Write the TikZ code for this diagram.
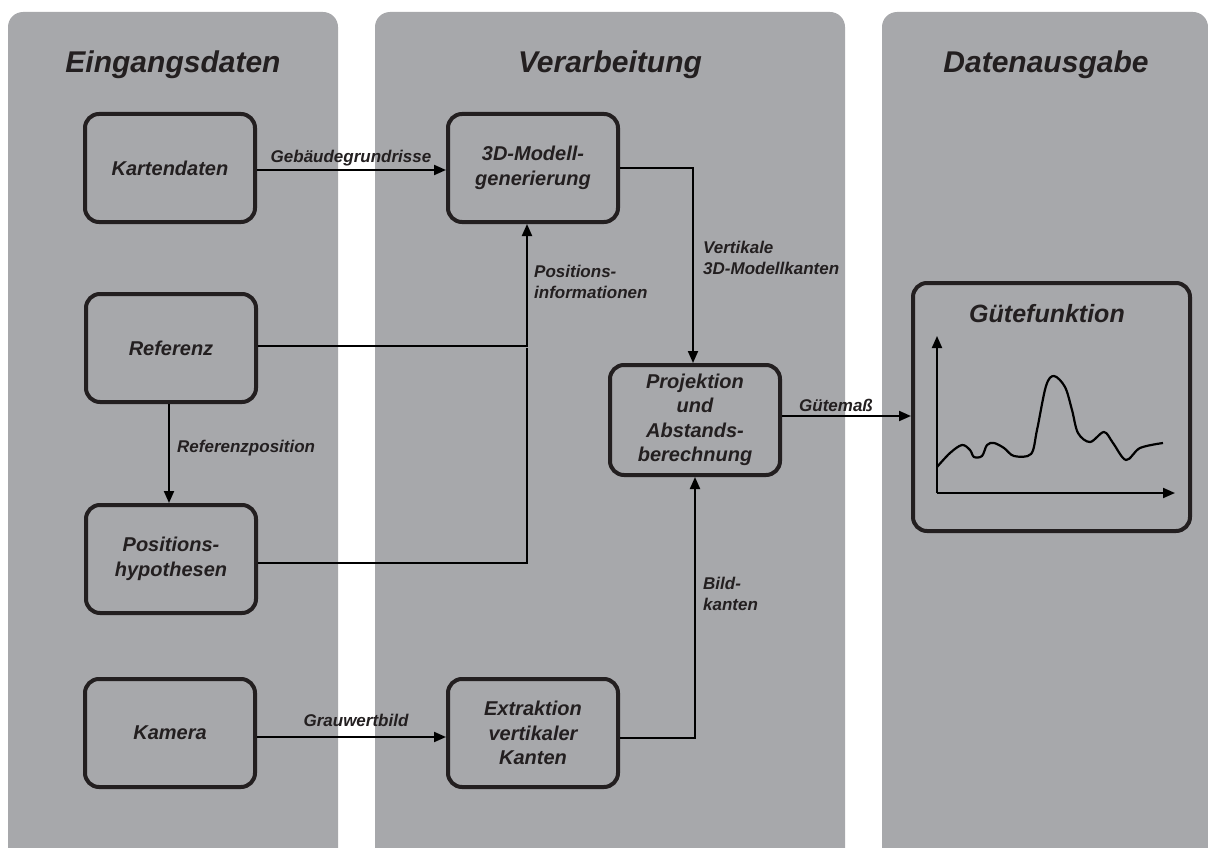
\documentclass[tikz,border=0pt]{standalone}
\usepackage{fontspec}
\setmainfont{Liberation Sans}
\usetikzlibrary{arrows.meta,calc}
\definecolor{panelgray}{HTML}{A7A8AB}
\definecolor{ink}{HTML}{231F20}
\tikzset{
  panel/.style={fill=panelgray, draw=none, rounded corners=15pt},
  title/.style={font=\fontsize{30}{36}\selectfont\bfseries\itshape, text=ink, anchor=base, inner sep=0pt},
  procbox/.style={draw=ink, line width=4pt, rounded corners=14pt, minimum width=170pt,
    minimum height=108pt, align=center, text=ink, inner sep=0pt,
    font=\fontsize{20}{24.5}\selectfont\bfseries\itshape},
  conn/.style={line width=2pt, -{Triangle[length=12pt,width=10pt]}},
  plain/.style={line width=2pt},
  lbl/.style={font=\fontsize{17}{20.5}\selectfont\bfseries\itshape, text=ink, inner sep=0pt, align=left},
}
\begin{document}
\begin{tikzpicture}[x=1pt,y=-1pt]
\useasboundingbox (0,0) rectangle (1208,848);
\clip (0,0) rectangle (1208,848);

% column backgrounds
\fill[panel] (8,12) rectangle (338,880);
\fill[panel] (375,12) rectangle (845,880);
\fill[panel] (882,12) rectangle (1208,880);

% column headings
\node[title] (t1) at (173,73) {Eingangsdaten};
\node[title] (t2) at (610,73) {Verarbeitung};
\node[title] (t3) at (1046,73) {Datenausgabe};

% process boxes
\node[procbox] (kart) at (170,168) {Kartendaten};
\node[procbox] (mod)  at (533,168) {3D-Modell-\\generierung};
\node[procbox] (ref)  at (171,348) {Referenz};
\node[procbox] (hyp)  at (171,559) {Positions-\\hypothesen};
\node[procbox] (kam)  at (170,733) {Kamera};
\node[procbox] (ext)  at (533,733) {Extraktion\\vertikaler\\Kanten};
\node[procbox, minimum height=110pt] (proj) at (695,420) {Projektion\\und\\Abstands-\\berechnung};

% quality function box
\node[draw=ink, line width=4pt, rounded corners=14pt, minimum width=277pt,
      minimum height=248pt, inner sep=0pt] (guete) at (1051.5,407) {};
\node[font=\fontsize{25}{30}\selectfont\bfseries\itshape, text=ink, anchor=base, inner sep=0pt]
      (gtitle) at (1047,322) {Gütefunktion};

% axes and curve
\coordinate (origin) at (937,493);
\coordinate (ytip) at (937,336);
\coordinate (xtip) at (1175,493);
\draw[line width=2pt, -{Triangle[length=12pt,width=10pt]}] (origin) -- (ytip);
\draw[line width=2pt, -{Triangle[length=12pt,width=10pt]}] (origin) -- (xtip);
\draw[line width=2.2pt, line join=round] plot[smooth, tension=0.55] coordinates {
  (937,467) (950,453) (962,445) (970,450) (974,457) (982,456) (987,445)
  (994,443) (1004,448) (1014,456) (1031,454) (1037,430) (1046,386)
  (1054,376) (1065,387) (1072,410) (1078,433) (1090,442) (1104,432)
  (1113,443) (1126,460) (1140,448) (1163,443)};

% connectors
\draw[conn] ([yshift=-2pt]kart.east) -- ([yshift=-2pt]kart.east -| mod.west);
\node[lbl, anchor=base] (lgeb) at (351,163) {Gebäudegrundrisse};

\draw[conn] (mod.east) -| ([xshift=-2pt]proj.north);
\node[lbl, anchor=north west] (lvert) at (703,241) {Vertikale\\3D-Modellkanten};

\coordinate (join) at ([xshift=-6pt]mod.south |- ref.east);
\draw[conn] ([yshift=2pt]ref.east) -| ([xshift=-6pt]mod.south);
\draw[plain] ([yshift=-4pt]hyp.east) -| (join);
\node[lbl, anchor=north west] (lpos) at (534,265) {Positions-\\informationen};

\draw[conn] ([xshift=-2pt]ref.south) -- ([xshift=-2pt]hyp.north);
\node[lbl, anchor=base west] (lrefp) at (177,452) {Referenzposition};

\draw[conn] ([yshift=4pt]proj.east) -- ([yshift=4pt]proj.east -| guete.west);
\node[lbl, anchor=base west] (lgm) at (799,411) {Gütemaß};

\draw[conn] ([yshift=-4pt]kam.east) -- ([yshift=-4pt]kam.east -| ext.west);
\node[lbl, anchor=base] (lgrau) at (356,726) {Grauwertbild};

\draw[conn] ([yshift=-5pt]ext.east) -| (proj.south);
\node[lbl, anchor=north west] (lbild) at (703,577) {Bild-\\kanten};
\end{tikzpicture}
\end{document}
